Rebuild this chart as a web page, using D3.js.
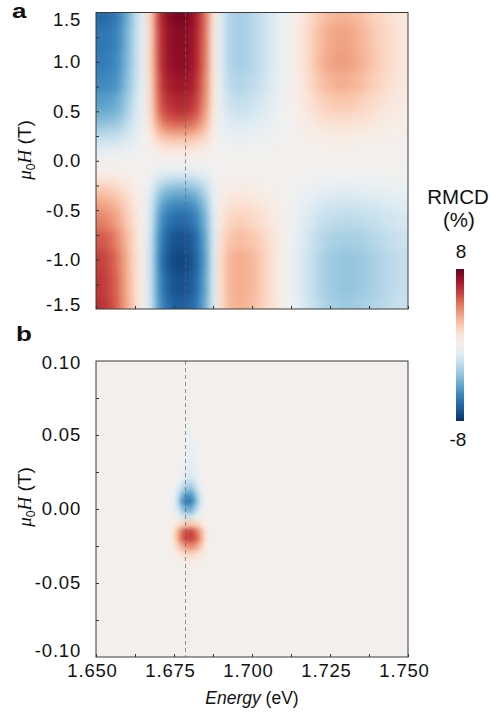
<!DOCTYPE html>
<html>
<head>
<meta charset="utf-8">
<script src="https://d3js.org/d3.v7.min.js"></script>
<style>
body { margin: 0; background: #fff; }
text { font-family: "Liberation Sans", Arial, sans-serif; fill: #111; }
</style>
</head>
<body>
<div id="rmcd_chart"></div>
<script>

// ---- data ----

// energy columns of panel a (eV)
var energyA = [1.650, 1.6525, 1.655, 1.6575, 1.660, 1.6625, 1.665, 1.6675, 1.670, 1.6725,
	1.675, 1.6775, 1.680, 1.6825, 1.685, 1.6875, 1.690, 1.6925, 1.695, 1.6975,
	1.700, 1.7025, 1.705, 1.7075, 1.710, 1.7125, 1.715, 1.7175, 1.720, 1.7225,
	1.725, 1.7275, 1.730, 1.7325, 1.735, 1.7375, 1.740, 1.7425, 1.745, 1.7475, 1.750];

// field rows of panel a (T)
var fieldA = [1.5, 1.25, 1.0, 0.8, 0.6, 0.5, 0.4, 0.3, 0.2, 0.1, 0.0,
	-0.1, -0.2, -0.3, -0.4, -0.5, -0.6, -0.8, -1.0, -1.25, -1.5];

// RMCD (%) of panel a, one row per field value
var rmcdA = [
	[-6.2,-6.2,-5.9,-5.3,-4.0,-2.2,-0.7, 1.9,5.5,6.9,7.5,7.6,7.2,6.3,4.4,1.1, -1.0,-2.3,-2.7,-2.6,-2.3,-1.9,-1.4,-0.9,-0.4, 0.1,0.6,1.2,1.8,2.3,2.6,2.8,2.8,2.6,2.4,2.0,1.7,1.4,1.1,0.9,0.7],
	[-5.8,-5.8,-5.6,-5.0,-3.7,-2.1,-0.6, 1.8,5.3,6.7,7.2,7.3,7.0,6.1,4.3,1.0, -1.0,-2.3,-2.7,-2.6,-2.3,-1.9,-1.4,-0.9,-0.4, 0.1,0.7,1.4,2.0,2.6,3.0,3.2,3.2,3.0,2.7,2.3,1.9,1.6,1.3,1.0,0.8],
	[-5.6,-5.6,-5.4,-4.8,-3.6,-2.0,-0.6, 1.8,5.2,6.6,7.1,7.2,6.9,6.0,4.2,1.0, -1.0,-2.3,-2.7,-2.6,-2.3,-1.9,-1.4,-0.9,-0.4, 0.1,0.7,1.4,2.1,2.7,3.1,3.3,3.3,3.1,2.8,2.4,2.0,1.6,1.3,1.0,0.8],
	[-5.2,-5.2,-5.0,-4.5,-3.3,-1.9,-0.6, 1.7,4.9,6.3,6.7,6.8,6.6,5.7,4.0,1.0, -0.9,-2.1,-2.4,-2.3,-2.1,-1.7,-1.3,-0.8,-0.4, 0.1,0.6,1.2,1.8,2.4,2.7,2.9,2.9,2.7,2.5,2.1,1.8,1.4,1.1,0.9,0.7],
	[-4.5,-4.5,-4.3,-3.8,-2.9,-1.6,-0.5, 1.6,4.6,5.8,6.2,6.3,6.1,5.3,3.7,0.9, -0.7,-1.7,-1.9,-1.9,-1.7,-1.4,-1.0,-0.6,-0.3, 0.1,0.5,1.0,1.4,1.8,2.1,2.2,2.2,2.1,1.9,1.6,1.4,1.1,0.9,0.7,0.5],
	[-4.0,-4.0,-3.9,-3.5,-2.6,-1.4,-0.4, 1.5,4.3,5.4,5.8,5.9,5.7,4.9,3.4,0.8, -0.6,-1.4,-1.6,-1.6,-1.4,-1.1,-0.8,-0.5,-0.2, 0.1,0.4,0.8,1.2,1.5,1.7,1.8,1.8,1.7,1.5,1.3,1.1,0.9,0.7,0.6,0.4],
	[-3.4,-3.4,-3.2,-2.9,-2.2,-1.2,-0.4, 1.3,3.6,4.6,5.0,5.0,4.8,4.2,2.9,0.7, -0.5,-1.0,-1.2,-1.2,-1.0,-0.9,-0.6,-0.4,-0.2, 0.0,0.3,0.6,0.8,1.1,1.2,1.3,1.3,1.2,1.1,1.0,0.8,0.6,0.5,0.4,0.3],
	[-2.5,-2.5,-2.4,-2.2,-1.6,-0.9,-0.3, 0.9,2.6,3.3,3.6,3.6,3.5,3.0,2.1,0.5, -0.3,-0.7,-0.8,-0.8,-0.7,-0.6,-0.4,-0.3,-0.1, 0.0,0.2,0.4,0.5,0.7,0.8,0.8,0.8,0.8,0.7,0.6,0.5,0.4,0.3,0.3,0.2],
	[-1.6,-1.6,-1.5,-1.3,-1.0,-0.6,-0.2, 0.5,1.5,1.8,2.0,2.0,1.9,1.7,1.2,0.3, -0.2,-0.3,-0.4,-0.4,-0.3,-0.3,-0.2,-0.1,-0.1, 0.0,0.1,0.2,0.3,0.3,0.4,0.4,0.4,0.4,0.3,0.3,0.2,0.2,0.2,0.1,0.1],
	[-0.7,-0.7,-0.6,-0.6,-0.4,-0.2,-0.1, 0.2,0.5,0.7,0.7,0.7,0.7,0.6,0.4,0.1, -0.1,-0.1,-0.1,-0.1,-0.1,-0.1,-0.1,0.0,0.0, 0.0,0.0,0.1,0.1,0.1,0.2,0.2,0.2,0.2,0.1,0.1,0.1,0.1,0.1,0.0,0.0],
	[0,0,0,0,0,0,0, 0,0,0,0,0,0,0,0,0, 0,0,0,0,0,0,0,0,0, 0,0,0,0,0,0,0,0,0,0,0,0,0,0,0,0],
	[0.3,0.3,0.2,0.2,0.1,0.1,0.0, -0.1,-0.4,-0.5,-0.6,-0.6,-0.6,-0.5,-0.4,-0.1, 0,0,0,0,0,0,0,0,0, 0.0,0.0,0.0,-0.1,-0.1,-0.1,-0.1,-0.1,-0.1,-0.1,-0.1,-0.1,-0.1,-0.1,-0.1,-0.1],
	[1.1,1.1,1.0,0.8,0.6,0.3,0.0, -0.5,-1.5,-2.0,-2.2,-2.2,-2.1,-1.9,-1.3,-0.4, 0.1,0.2,0.2,0.2,0.2,0.2,0.1,0.1,0.0, 0.0,-0.1,-0.2,-0.2,-0.3,-0.3,-0.3,-0.3,-0.3,-0.3,-0.3,-0.3,-0.2,-0.2,-0.2,-0.2],
	[2.1,2.1,1.9,1.5,1.1,0.5,0.1, -0.9,-2.5,-3.3,-3.6,-3.7,-3.5,-3.1,-2.2,-0.6, 0.3,0.5,0.6,0.6,0.5,0.4,0.3,0.2,0.1, -0.1,-0.2,-0.4,-0.5,-0.6,-0.7,-0.8,-0.8,-0.8,-0.7,-0.7,-0.6,-0.6,-0.5,-0.5,-0.5],
	[2.9,2.8,2.5,2.1,1.5,0.7,0.1, -1.2,-3.3,-4.3,-4.7,-4.7,-4.6,-4.0,-2.9,-0.8, 0.5,0.9,1.0,1.0,0.9,0.7,0.5,0.3,0.1, -0.1,-0.4,-0.6,-0.8,-1.1,-1.2,-1.3,-1.3,-1.3,-1.2,-1.1,-1.1,-1.0,-0.9,-0.8,-0.8],
	[3.6,3.5,3.1,2.6,1.8,0.9,0.1, -1.4,-3.9,-5.1,-5.6,-5.7,-5.5,-4.8,-3.4,-0.9, 0.7,1.3,1.5,1.5,1.3,1.1,0.8,0.5,0.2, -0.2,-0.5,-0.9,-1.2,-1.5,-1.6,-1.7,-1.8,-1.7,-1.7,-1.6,-1.5,-1.3,-1.2,-1.1,-1.0],
	[4.1,4.0,3.6,3.0,2.1,1.0,0.1, -1.5,-4.3,-5.7,-6.2,-6.3,-6.0,-5.3,-3.8,-1.0, 0.9,1.6,1.8,1.8,1.6,1.3,0.9,0.6,0.2, -0.2,-0.6,-1.1,-1.4,-1.8,-2.0,-2.1,-2.2,-2.1,-2.0,-1.9,-1.8,-1.6,-1.5,-1.3,-1.3],
	[5.0,4.9,4.4,3.6,2.5,1.3,0.2, -1.7,-4.8,-6.3,-6.9,-7.0,-6.7,-6.0,-4.2,-1.2, 1.2,2.2,2.4,2.4,2.2,1.8,1.3,0.8,0.3, -0.3,-0.8,-1.3,-1.8,-2.2,-2.5,-2.6,-2.7,-2.6,-2.6,-2.4,-2.2,-2.0,-1.8,-1.7,-1.6],
	[5.6,5.4,4.9,4.0,2.8,1.4,0.2, -1.8,-5.0,-6.6,-7.2,-7.3,-7.0,-6.2,-4.4,-1.2, 1.4,2.6,2.9,2.9,2.6,2.1,1.5,0.9,0.3, -0.3,-0.9,-1.5,-2.0,-2.5,-2.8,-3.0,-3.1,-3.0,-2.9,-2.7,-2.5,-2.3,-2.1,-1.9,-1.8],
	[5.9,5.6,5.1,4.2,2.9,1.5,0.2, -1.7,-4.8,-6.3,-6.9,-7.0,-6.7,-6.0,-4.2,-1.2, 1.4,2.6,2.9,2.9,2.6,2.1,1.5,0.9,0.3, -0.3,-0.9,-1.5,-2.0,-2.5,-2.8,-3.0,-3.1,-3.0,-2.9,-2.7,-2.5,-2.3,-2.1,-1.9,-1.8],
	[6.0,5.8,5.2,4.3,3.0,1.5,0.2, -1.6,-4.5,-5.9,-6.5,-6.6,-6.3,-5.6,-4.0,-1.1, 1.3,2.5,2.8,2.8,2.5,2.0,1.4,0.9,0.3, -0.3,-0.8,-1.4,-1.8,-2.3,-2.6,-2.8,-2.9,-2.8,-2.7,-2.5,-2.3,-2.1,-1.9,-1.7,-1.7]
];

// panel b: almost uniform faint background, plus the two blobs near 1.679 eV
var backgroundB = 0.1;
var energyB = [1.67375, 1.675, 1.67625, 1.6775, 1.67875, 1.680, 1.68125, 1.6825, 1.68375, 1.685, 1.68625];
var fieldB = [0.06, 0.055, 0.05, 0.045, 0.04, 0.035, 0.03, 0.025, 0.02, 0.015, 0.01, 0.005, 0.0,
	-0.005, -0.01, -0.015, -0.02, -0.025, -0.03, -0.035, -0.04];
var rmcdB = [
	[0.1,0.1,0.1,0.1,0.0,-0.1,0.0,0.1,0.1,0.1,0.1],
	[0.1,0.1,0.1,0.0,-0.1,-0.2,-0.1,0.0,0.1,0.1,0.1],
	[0.1,0.1,0.1,0.0,-0.2,-0.3,-0.2,0.0,0.1,0.1,0.1],
	[0.1,0.1,0.1,0.0,-0.3,-0.4,-0.3,-0.1,0.1,0.1,0.1],
	[0.1,0.1,0.1,-0.1,-0.4,-0.5,-0.4,-0.1,0.1,0.1,0.1],
	[0.1,0.1,0.1,-0.1,-0.5,-0.6,-0.5,-0.2,0.1,0.1,0.1],
	[0.1,0.1,0.0,-0.2,-0.6,-0.8,-0.7,-0.3,0.0,0.1,0.1],
	[0.1,0.1,0.0,-0.3,-0.8,-1.0,-0.9,-0.4,0.0,0.1,0.1],
	[0.1,0.0,-0.2,-0.7,-1.3,-1.5,-1.3,-0.7,-0.2,0.1,0.1],
	[0.1,-0.2,-0.8,-1.8,-2.6,-2.8,-2.4,-1.5,-0.5,0.0,0.1],
	[0.0,-0.5,-1.7,-3.4,-4.4,-4.6,-3.9,-2.5,-1.0,-0.2,0.1],
	[0.0,-0.7,-2.4,-4.5,-5.6,-5.7,-4.8,-3.1,-1.3,-0.3,0.1],
	[0.0,-0.4,-1.5,-3.0,-3.9,-3.9,-3.2,-2.0,-0.8,-0.1,0.1],
	[0.1,0.0,-0.4,-1.1,-1.6,-1.5,-1.1,-0.6,-0.1,0.1,0.1],
	[0.2,0.5,1.0,1.6,1.9,2.0,1.9,1.6,1.1,0.5,0.2],
	[0.4,1.2,2.8,4.4,5.2,5.4,5.1,4.2,2.8,1.3,0.4],
	[0.4,1.3,3.0,4.6,5.4,5.5,5.3,4.5,3.1,1.4,0.4],
	[0.3,0.8,1.8,2.9,3.6,3.8,3.7,3.1,2.1,0.9,0.3],
	[0.2,0.4,0.8,1.2,1.5,1.6,1.6,1.3,0.9,0.4,0.2],
	[0.1,0.2,0.3,0.5,0.6,0.6,0.6,0.5,0.4,0.2,0.1],
	[0.1,0.1,0.1,0.1,0.2,0.2,0.2,0.1,0.1,0.1,0.1]
];

// dashed marker line (eV)
var markerEnergy = 1.6787;

// ticks
var xTickLabels = [1.650, 1.675, 1.700, 1.725, 1.750];
var xTickMarks = [1.650, 1.6625, 1.675, 1.6875, 1.700, 1.7125, 1.725, 1.7375, 1.750];
var yTickLabelsA = [1.5, 1.0, 0.5, 0.0, -0.5, -1.0, -1.5];
var yTickMarksA = [1.25, 1.0, 0.75, 0.5, 0.25, 0.0, -0.25, -0.5, -0.75, -1.0, -1.25];
var yTickLabelsB = [0.10, 0.05, 0.00, -0.05, -0.10];
var yTickMarksB = [0.075, 0.05, 0.025, 0.0, -0.025, -0.05, -0.075];
var colorLimits = [8, -8];

// ---- layout ----
var svgW = 492, svgH = 717;
var left = 96, width = 312;
var panelA = {top: 12.5, height: 296.5};
var panelB = {top: 361, height: 296};
var bleed = 20;   // edge cells run past the frame so the smoothing has no empty border

var svg = d3.select("#rmcd_chart")
	.append("svg")
		.attr("width", svgW)
		.attr("height", svgH);
var defs = svg.append("defs");

var x = d3.scaleLinear().domain([1.650, 1.750]).range([0, width]);
var yA = d3.scaleLinear().domain([-1.5, 1.5]).range([panelA.height, 0]);
var yB = d3.scaleLinear().domain([-0.1, 0.1]).range([panelB.height, 0]);

// RdBu diverging, red = positive
var color = d3.scaleDiverging(d3.interpolateRdBu)
	.domain([colorLimits[0], 0, colorLimits[1]])
	.clamp(true);

// blur filters that smooth the cell grid like the shaded original
function addBlur(id, sd) {
	defs.append("filter")
		.attr("id", id)
		.attr("x", -0.2).attr("y", -0.2).attr("width", 1.4).attr("height", 1.4)
		.attr("color-interpolation-filters", "sRGB")
		.append("feGaussianBlur")
			.attr("stdDeviation", sd);
}
addBlur("smoothA", "3.2 4.5");
addBlur("smoothB", "1.8 2.6");

// draw one heat map of cells, rows may be unevenly spaced
function drawCells(g, y, energies, fields, values, stepE, edge) {
	var n = fields.length, m = energies.length;
	var cells = [];
	values.forEach(function(row, i) {
		var top = i == 0 ? fields[0] + (fields[0] - fields[1]) / 2 : (fields[i - 1] + fields[i]) / 2;
		var bot = i == n - 1 ? fields[n - 1] - (fields[n - 2] - fields[n - 1]) / 2 : (fields[i] + fields[i + 1]) / 2;
		row.forEach(function(v, j) {
			cells.push({i: i, j: j, e: energies[j], top: top, bot: bot, v: v});
		});
	});
	g.selectAll(null)
		.data(cells)
		.enter()
		.append("rect")
			.attr("x", function(d) { return x(d.e - stepE / 2) - (edge && d.j == 0 ? bleed : 0); })
			.attr("y", function(d) { return y(d.top) - (edge && d.i == 0 ? bleed : 0); })
			.attr("width", function(d) {
				return x(d.e + stepE / 2) - x(d.e - stepE / 2) + (edge && (d.j == 0 || d.j == m - 1) ? bleed : 0);
			})
			.attr("height", function(d) {
				return y(d.bot) - y(d.top) + (edge && (d.i == 0 || d.i == n - 1) ? bleed : 0);
			})
			.attr("shape-rendering", "crispEdges")
			.style("fill", function(d) { return color(d.v); });
}

function makePanel(id, panel, y, yLabels, yMarks, labelNudge) {
	var g = svg.append("g")
		.attr("transform", "translate(" + left + "," + panel.top + ")");

	defs.append("clipPath").attr("id", "clip-" + id)
		.append("rect").attr("width", width).attr("height", panel.height);

	var plot = g.append("g")
		.attr("clip-path", "url(#clip-" + id + ")")
		.append("g")
		.attr("filter", "url(#smooth" + id.toUpperCase() + ")");

	// y tick marks (inside) and labels
	g.append("g")
		.call(d3.axisLeft(y).tickValues(yMarks).tickSizeInner(-3).tickSizeOuter(0).tickFormat(""))
		.call(function(a) { a.select(".domain").remove(); a.selectAll("line").attr("stroke", "#333"); });
	var yl = g.append("g")
		.call(d3.axisLeft(y).tickValues(yLabels).tickSize(0).tickPadding(15)
			.tickFormat(function(d) { return d.toFixed(yLabels[0] < 1 ? 2 : 1); }));
	yl.select(".domain").remove();
	yl.selectAll("text")
		.style("font-size", "18.5px")
		.style("letter-spacing", "0.8px")
		.style("fill", "#111")
		.attr("dy", function(d, i) { return (0.32 * 18.5 + (labelNudge[i] || 0)) + "px"; });

	// bottom tick marks (inside)
	g.append("g")
		.attr("transform", "translate(0," + panel.height + ")")
		.call(d3.axisBottom(x).tickValues(xTickMarks).tickSizeInner(-3).tickSizeOuter(0).tickFormat(""))
		.call(function(a) { a.select(".domain").remove(); a.selectAll("line").attr("stroke", "#333"); });

	return {g: g, plot: plot};
}

// ---- panel a ----
var pa = makePanel("a", panelA, yA, yTickLabelsA, yTickMarksA, [7, 0, 0, 0, 0, 0, -4]);
drawCells(pa.plot, yA, energyA, fieldA, rmcdA, 0.0025, true);

// ---- panel b ----
var pb = makePanel("b", panelB, yB, yTickLabelsB, yTickMarksB, [2, 0, 0, 0, -6]);
pb.plot.append("rect")
	.attr("x", -bleed).attr("y", -bleed)
	.attr("width", width + 2 * bleed)
	.attr("height", panelB.height + 2 * bleed)
	.style("fill", color(backgroundB));
drawCells(pb.plot, yB, energyB, fieldB, rmcdB, 0.00125, false);

// tick marks should sit above the cells
[pa, pb].forEach(function(p) { d3.select(p.plot.node().parentNode).lower(); });

// dashed line and frame on both panels
[[pa, panelA], [pb, panelB]].forEach(function(pp) {
	pp[0].g.append("line")
		.attr("x1", x(markerEnergy)).attr("x2", x(markerEnergy))
		.attr("y1", 0).attr("y2", pp[1].height)
		.attr("stroke", "#666")
		.attr("stroke-opacity", 0.7)
		.attr("stroke-dasharray", "4,3");
	pp[0].g.append("rect")
		.attr("width", width).attr("height", pp[1].height)
		.attr("fill", "none")
		.attr("stroke", "#3a3a3a")
		.attr("stroke-width", 1);
});

// x labels only on panel b
var xl = pb.g.append("g")
	.attr("transform", "translate(0," + panelB.height + ")")
	.call(d3.axisBottom(x).tickValues(xTickLabels).tickSize(0).tickPadding(7)
		.tickFormat(function(d) { return d.toFixed(3); }));
xl.select(".domain").remove();
xl.selectAll("text")
	.style("font-size", "18.5px")
	.style("letter-spacing", "0.8px")
	.style("fill", "#111")
	.attr("dx", "-4px");

// x title
var xt = svg.append("text")
	.attr("x", left + width / 2)
	.attr("y", 704)
	.attr("text-anchor", "middle")
	.style("font-size", "17.5px");
xt.append("tspan").style("font-style", "italic").text("Energy");
xt.append("tspan").text(" (eV)");

// y titles: mu_0 H (T)
function yTitle(cy) {
	var t = svg.append("text")
		.attr("transform", "translate(31," + cy + ") rotate(-90)")
		.attr("text-anchor", "middle")
		.style("font-size", "19px");
	t.append("tspan").style("font-family", "'Liberation Serif', 'DejaVu Serif', serif").style("font-style", "italic").text("μ");
	t.append("tspan").attr("baseline-shift", "-30%").style("font-size", "12px").text("0");
	t.append("tspan").style("font-family", "'Liberation Serif', 'DejaVu Serif', serif").style("font-style", "italic").text("H");
	t.append("tspan").text(" (T)");
}
yTitle(150);
yTitle(497);

// panel letters
svg.append("text")
	.attr("transform", "translate(12,18) scale(1.3,1)")
	.style("font-size", "20px").style("font-weight", "bold")
	.text("a");
svg.append("text")
	.attr("transform", "translate(16,341) scale(1.3,1)")
	.style("font-size", "20px").style("font-weight", "bold")
	.text("b");

// ---- colour bar ----
var cbX = 456, cbY = 269, cbW = 8, cbH = 152;
var cbScale = d3.scaleLinear().domain(colorLimits).range([cbY, cbY + cbH]);
var grad = defs.append("linearGradient")
	.attr("id", "rdbu")
	.attr("x1", 0).attr("y1", 0).attr("x2", 0).attr("y2", 1);
d3.range(0, 1.0001, 0.05).forEach(function(t) {
	grad.append("stop")
		.attr("offset", t)
		.attr("stop-color", color(colorLimits[0] + t * (colorLimits[1] - colorLimits[0])));
});
svg.append("rect")
	.attr("x", cbX).attr("y", cbScale(colorLimits[0]))
	.attr("width", cbW).attr("height", cbScale(colorLimits[1]) - cbScale(colorLimits[0]))
	.style("fill", "url(#rdbu)");

svg.append("text").attr("x", 458).attr("y", 204).attr("text-anchor", "middle")
	.style("font-size", "20.5px").text("RMCD");
svg.append("text").attr("x", 459).attr("y", 227).attr("text-anchor", "middle")
	.style("font-size", "20.5px").text("(%)");
svg.append("text").attr("x", 461).attr("y", cbScale(colorLimits[0]) - 11).attr("text-anchor", "middle")
	.style("font-size", "19px").text(colorLimits[0]);
svg.append("text").attr("x", 458).attr("y", cbScale(colorLimits[1]) + 25).attr("text-anchor", "middle")
	.style("font-size", "19px").text("-" + Math.abs(colorLimits[1]));

</script>
</body>
</html>
